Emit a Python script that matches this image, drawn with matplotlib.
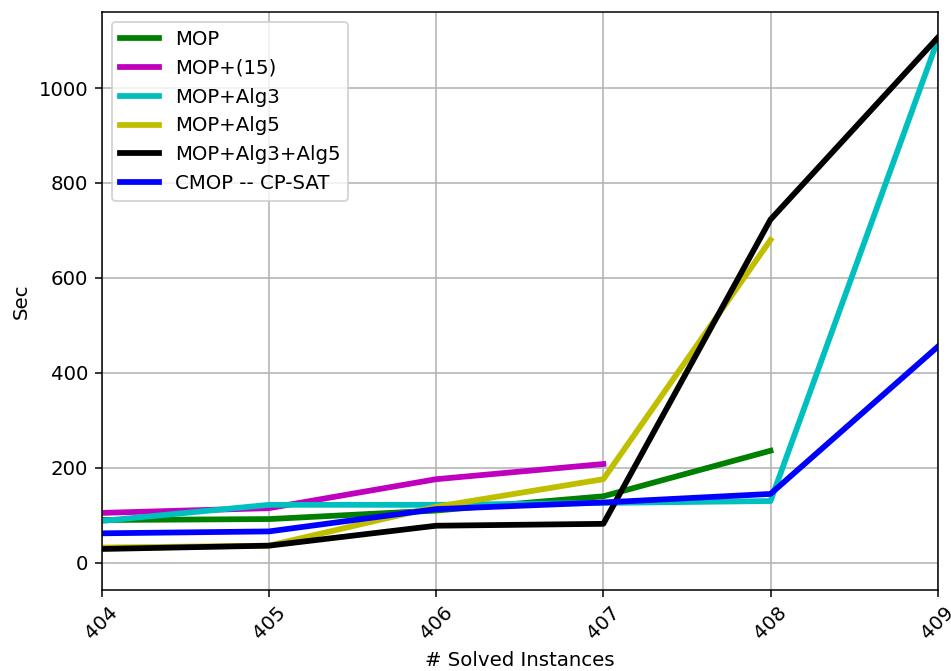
import matplotlib
matplotlib.use("Agg")
import matplotlib.pyplot as plt

x = [404, 405, 406, 407, 408, 409]
mop = [90, 92, 110, 140, 236]
mop15 = [105, 115, 176, 208]
mop_alg3 = [88, 122, 122, 126, 130, 1101]
mop_alg5 = [32, 36, 118, 176, 680]
mop_alg3_alg5 = [29, 36, 78, 82, 723, 1106]
cmop = [62, 66, 113, 127, 145, 455]

series = [
    ("MOP", mop, "g"),
    ("MOP+(15)", mop15, "m"),
    ("MOP+Alg3", mop_alg3, "c"),
    ("MOP+Alg5", mop_alg5, "y"),
    ("MOP+Alg3+Alg5", mop_alg3_alg5, "k"),
    ("CMOP -- CP-SAT", cmop, "b"),
]

plt.rcParams["font.size"] = 10.3
DPI = 138
fig = plt.figure(figsize=(951 / DPI, 671 / DPI), dpi=DPI)
ax = fig.add_axes([0.107, 0.121, 0.879, 0.861])
for label, vals, c in series:
    ax.plot(x[:len(vals)], vals, color=c, lw=3, label=label)

ax.set_xlim(404, 409)
ax.set_ylim(-57, 1160)
ax.set_xticks(x)
ax.set_xticklabels([str(v) for v in x], rotation=45)
ax.grid(True, color="#b0b0b0")
ax.set_xlabel("# Solved Instances")
ax.set_ylabel("Sec")
ax.legend(loc="upper left")
fig.savefig("out.png", dpi=DPI)
